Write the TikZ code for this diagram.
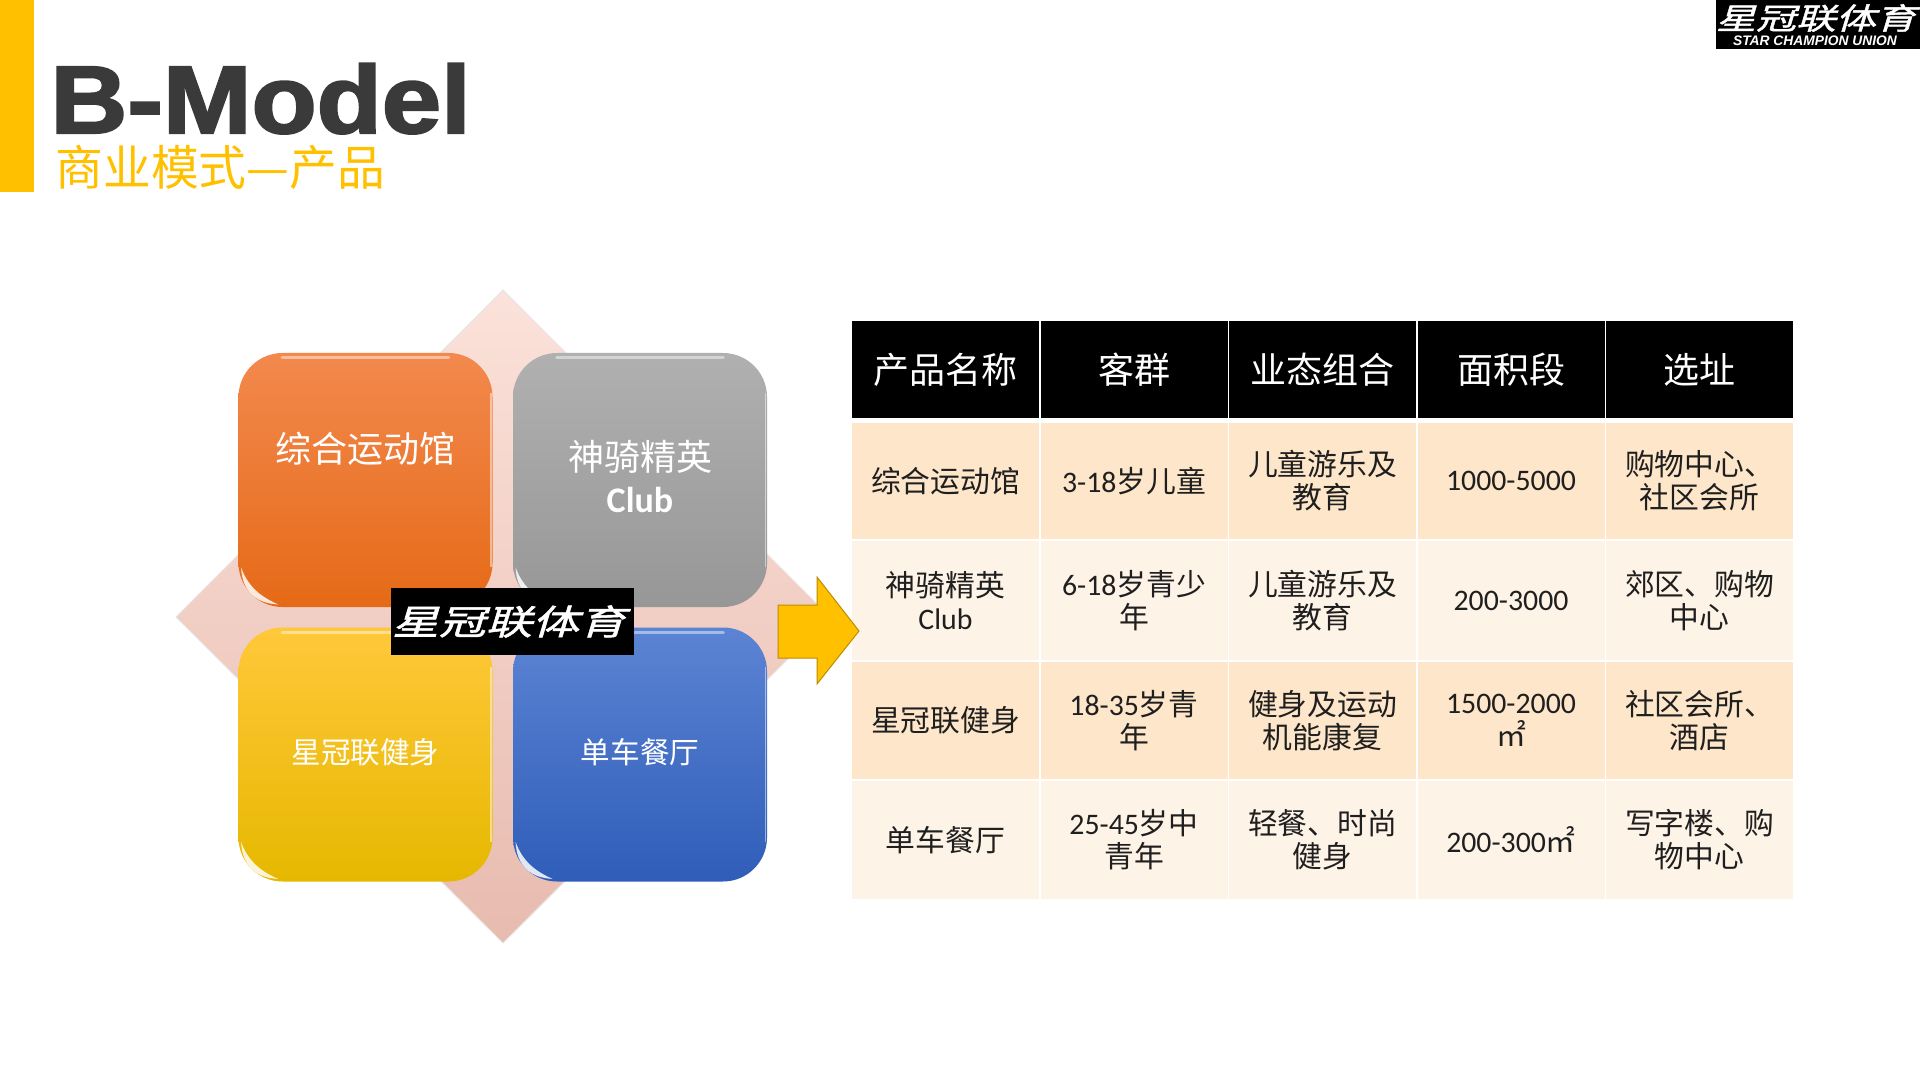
\documentclass[tikz,border=0pt]{standalone}
\usepackage{fontspec}
\setmainfont{Noto Sans CJK SC}
\newfontfamily\latfont{Carlito}
\newfontfamily\titlefont{Liberation Sans}
\newfontfamily\heavyfont[BoldFeatures={FakeBold=2.2}]{Liberation Sans}
\newfontfamily\logofont[FakeSlant=0.3,FakeStretch=1.35,FakeBold=1.5]{Noto Sans CJK SC}
\newcommand{\lat}[1]{{\latfont #1}}
\definecolor{barYellow}{HTML}{FFC000}
\definecolor{titleGray}{HTML}{3A3A3A}
\definecolor{rowDark}{HTML}{FDE6C9}
\definecolor{rowLight}{HTML}{FEF3E7}
\definecolor{arrowEdge}{HTML}{BC8C00}
\tikzset{
  headcell/.style={fill=black,text=white,inner sep=0pt,minimum width=93.5pt,minimum height=48.5pt,align=center,font=\fontsize{18}{21}\selectfont},
  bodycell/.style={inner sep=0pt,minimum width=93.5pt,align=center,text=black!88,font=\fontsize{14.9}{16.5}\selectfont},
  tile/.style={rounded corners=22pt,minimum width=127pt,minimum height=127pt,inner sep=0pt},
  tilelabel/.style={text=white,align=center,inner sep=0pt},
}
\begin{document}
\begin{tikzpicture}[x=.5pt,y=-.5pt]
\useasboundingbox (0,0) rectangle (1920,1080);

\fill[barYellow] (0,0) rectangle (34,192);
\node[anchor=base west,inner sep=0pt,text=titleGray,xscale=1.11,font=\heavyfont\bfseries\fontsize{48}{48}\selectfont] (title) at (50,133) {B-Model};
\node[anchor=west,inner sep=0pt,text=barYellow,font=\fontsize{23.9}{26}\selectfont] (subtitle) at (55,167) {商业模式—产品};

\node[fill=black,inner sep=0pt,minimum width=102pt,minimum height=24.5pt] (cornerlogo) at (1818,24.5) {};
\node[text=white,inner sep=0pt,font=\logofont\fontsize{14.8}{16}\selectfont] (cornername) at (1816,18) {星冠联体育};
\node[text=white,inner sep=0pt,font=\titlefont\bfseries\itshape\fontsize{6.9}{7}\selectfont] (cornertag) at (1815,41) {STAR CHAMPION UNION};

\draw[top color={rgb,255:red,251;green,226;blue,218},middle color={rgb,255:red,249;green,218;blue,208},bottom color={rgb,255:red,232;green,187;blue,175},draw=black!10,line width=.5pt]
  (503,290) -- (830,617) -- (503,943) -- (176,617) -- cycle;

\node[tile,top color={rgb,255:red,243;green,137;blue,78},middle color={rgb,255:red,245;green,122;blue,38},bottom color={rgb,255:red,229;green,106;blue,23}] (orange) at (365.5,480) {};
\node[tile,top color={rgb,255:red,176;green,176;blue,176},bottom color={rgb,255:red,151;green,151;blue,151}] (gray) at (640,480) {};
\node[tile,top color={rgb,255:red,255;green,200;blue,58},middle color={rgb,255:red,255;green,196;blue,0},bottom color={rgb,255:red,230;green,184;blue,0}] (yellow) at (365.5,754.5) {};
\node[tile,top color={rgb,255:red,92;green,132;blue,212},middle color={rgb,255:red,68;green,114;blue,200},bottom color={rgb,255:red,47;green,93;blue,184}] (blue) at (640,754.5) {};

\foreach \t in {orange,gray,yellow,blue}{
  \draw[white,opacity=.45,line width=1.5pt,line cap=round] ([xshift=22pt,yshift=-2.5pt]\t.north west) -- ([xshift=-22pt,yshift=-2.5pt]\t.north east);
  \fill[white,opacity=.85] ([xshift=1.5pt,yshift=20pt]\t.south west) .. controls ([xshift=2pt,yshift=8pt]\t.south west) and ([xshift=9pt,yshift=2pt]\t.south west) .. ([xshift=20pt,yshift=1.5pt]\t.south west) .. controls ([xshift=12pt,yshift=5pt]\t.south west) and ([xshift=5pt,yshift=10pt]\t.south west) .. cycle;
  \draw[white,opacity=.5,line width=.8pt] ([xshift=-1pt,yshift=-20pt]\t.north east) -- ([xshift=-1pt,yshift=20pt]\t.south east);
}

\node[tilelabel,font=\fontsize{18}{21}\selectfont] (orangetext) at (365.5,449) {综合运动馆};
\node[tilelabel,font=\fontsize{18}{21}\selectfont] (graytext) at (640,477) {神骑精英\\\lat{\bfseries Club}};
\node[tilelabel,font=\fontsize{14.8}{17}\selectfont] (yellowtext) at (365.5,752) {星冠联健身};
\node[tilelabel,font=\fontsize{14.8}{17}\selectfont] (bluetext) at (640,752) {单车餐厅};

\node[fill=black,inner sep=0pt,minimum width=121.5pt,minimum height=33.5pt] (logo) at (512.5,621.5) {};
\node[text=white,inner sep=0pt,font=\logofont\fontsize{17.3}{20}\selectfont] (logotext) at (509,621.5) {星冠联体育};

\node[headcell] (h1) at (945.5,369.5) {产品名称};
\node[headcell] (h2) at (1134,369.5) {客群};
\node[headcell] (h3) at (1322.5,369.5) {业态组合};
\node[headcell] (h4) at (1511,369.5) {面积段};
\node[headcell] (h5) at (1699.5,369.5) {选址};

\foreach \r/\y/\h/\rowfill/\ta/\tb/\tc/\td/\te in {
  1/481/58/rowDark/{综合运动馆}/{\lat{3-18}岁儿童}/{儿童游乐及\\教育}/{\lat{1000-5000}}/{购物中心、\\社区会所},
  2/600.5/59.5/rowLight/{神骑精英\\\lat{Club}}/{\lat{6-18}岁青少\\年}/{儿童游乐及\\教育}/{\lat{200-3000}}/{郊区、购物\\中心},
  3/720.5/58.5/rowDark/{星冠联健身}/{\lat{18-35}岁青\\年}/{健身及运动\\机能康复}/{\lat{1500-2000}\\㎡}/{社区会所、\\酒店},
  4/840/59/rowLight/{单车餐厅}/{\lat{25-45}岁中\\青年}/{轻餐、时尚\\健身}/{\lat{200-300}㎡}/{写字楼、购\\物中心}}{
  \node[bodycell,fill=\rowfill,minimum height=\h pt] (c\r a) at (945.5,\y) {\ta};
  \node[bodycell,fill=\rowfill,minimum height=\h pt] (c\r b) at (1134,\y) {\tb};
  \node[bodycell,fill=\rowfill,minimum height=\h pt] (c\r c) at (1322.5,\y) {\tc};
  \node[bodycell,fill=\rowfill,minimum height=\h pt] (c\r d) at (1511,\y) {\td};
  \node[bodycell,fill=\rowfill,minimum height=\h pt] (c\r e) at (1699.5,\y) {\te};
}

\draw[fill=barYellow,draw=arrowEdge,line width=.5pt]
  (778,605) -- (817,605) -- (817,577) -- (859,631) -- (817,684) -- (817,658) -- (778,658) -- cycle;
\end{tikzpicture}
\end{document}
